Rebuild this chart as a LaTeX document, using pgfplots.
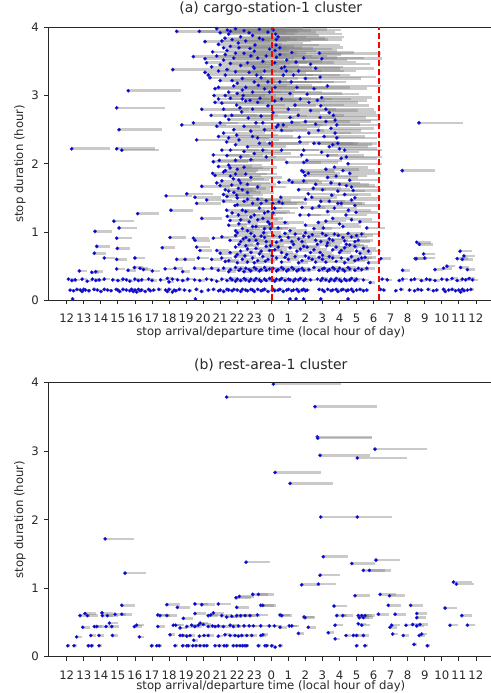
\documentclass[border=0pt]{standalone}
\usepackage{fontspec}
\setmainfont{DejaVu Sans}
\usepackage{pgfplots}
\usepackage{pgfplotstable}
\pgfplotsset{compat=1.18}
\definecolor{dotblue}{RGB}{40,40,215}
\definecolor{axgray}{RGB}{40,40,40}
\definecolor{seggray}{RGB}{128,128,128}

% columns: arrival (hour, 24 = midnight), duration (hour)
\pgfplotstableread[row sep=\\]{
x y\\
12.35 0.02\\ 19.55 0.02\\ 25.1 0.02\\ 25.45 0.02\\ 25.9 0.02\\ 26.9 0.02\\ 28.5 0.02\\
12.2 0.15\\ 12.4 0.14\\ 12.6 0.16\\ 12.8 0.15\\ 12.9 0.13\\ 13.0 0.16\\ 13.1 0.15\\ 13.3 0.14\\ 13.6 0.16\\ 13.8 0.15\\
14.0 0.13\\ 14.2 0.16\\ 14.4 0.15\\ 14.6 0.14\\ 14.9 0.16\\ 15.0 0.15\\ 15.1 0.13\\ 15.3 0.16\\ 15.5 0.15\\ 15.7 0.14\\
15.8 0.16\\ 15.9 0.13\\ 16.0 0.15\\ 16.1 0.12\\ 16.2 0.16\\ 16.3 0.14\\ 16.4 0.15\\ 16.6 0.13\\ 16.8 0.16\\ 16.9 0.14\\
17.1 0.15\\ 17.4 0.16\\ 17.8 0.15\\ 17.9 0.13\\ 18.0 0.16\\ 18.2 0.12\\ 18.3 0.15\\ 18.4 0.14\\ 18.6 0.16\\ 18.9 0.15\\
19.2 0.14\\ 19.6 0.16\\ 19.9 0.13\\ 20.3 0.15\\ 20.6 0.16\\ 20.9 0.14\\ 21.0 0.15\\ 21.2 0.13\\ 21.4 0.16\\ 21.5 0.15\\
21.7 0.14\\ 21.8 0.16\\ 22.0 0.15\\ 22.2 0.13\\ 22.3 0.16\\ 22.5 0.15\\ 22.6 0.14\\ 22.8 0.16\\ 22.9 0.15\\ 23.0 0.13\\
23.2 0.16\\ 23.4 0.14\\ 23.5 0.15\\ 23.6 0.16\\ 23.8 0.13\\ 24.05 0.15\\ 24.1 0.16\\ 24.2 0.14\\ 24.4 0.15\\ 24.5 0.16\\
24.7 0.13\\ 24.9 0.15\\ 25.0 0.16\\ 25.2 0.14\\ 25.3 0.15\\ 25.5 0.16\\ 25.6 0.13\\ 25.8 0.15\\ 25.9 0.16\\ 26.0 0.14\\
26.1 0.15\\ 26.8 0.16\\ 27.0 0.15\\ 27.1 0.13\\ 27.3 0.16\\ 27.5 0.14\\ 27.6 0.15\\ 27.8 0.16\\ 27.9 0.13\\ 28.1 0.15\\
28.2 0.16\\ 28.4 0.14\\ 28.5 0.15\\ 28.7 0.16\\ 28.8 0.13\\ 29.0 0.15\\ 29.2 0.16\\ 29.4 0.14\\ 29.6 0.15\\ 30.4 0.16\\
30.6 0.15\\ 31.3 0.14\\ 31.6 0.16\\ 32.1 0.15\\ 32.4 0.14\\ 32.6 0.16\\ 32.8 0.15\\ 33.2 0.16\\ 33.5 0.14\\ 33.7 0.15\\
34.1 0.16\\ 34.2 0.13\\ 34.4 0.15\\ 34.6 0.16\\ 34.8 0.14\\ 35.0 0.15\\ 35.1 0.12\\ 35.2 0.16\\ 35.3 0.14\\ 35.5 0.15\\ 35.7 0.16\\
12.1 0.31\\ 12.3 0.29\\ 12.5 0.30\\ 12.9 0.31\\ 13.2 0.28\\ 13.5 0.31\\ 13.7 0.29\\ 13.9 0.30\\ 14.2 0.31\\ 14.7 0.30\\
15.0 0.29\\ 15.3 0.31\\ 15.5 0.30\\ 15.7 0.28\\ 16.0 0.31\\ 16.2 0.29\\ 16.4 0.30\\ 16.8 0.31\\ 17.0 0.29\\ 17.5 0.30\\
17.9 0.32\\ 18.0 0.27\\ 18.2 0.31\\ 18.5 0.30\\ 18.8 0.29\\ 19.1 0.31\\ 19.5 0.30\\ 19.8 0.29\\ 20.2 0.31\\ 20.5 0.30\\
20.8 0.28\\ 21.1 0.31\\ 21.4 0.29\\ 21.6 0.32\\ 21.7 0.30\\ 21.9 0.28\\ 22.0 0.31\\ 22.2 0.29\\ 22.4 0.32\\ 22.5 0.30\\
22.7 0.28\\ 22.8 0.31\\ 23.0 0.29\\ 23.1 0.32\\ 23.3 0.30\\ 23.4 0.28\\ 23.6 0.31\\ 23.7 0.29\\ 23.9 0.32\\ 24.05 0.30\\
24.2 0.28\\ 24.3 0.31\\ 24.5 0.30\\ 24.6 0.32\\ 24.8 0.29\\ 25.0 0.31\\ 25.1 0.30\\ 25.3 0.28\\ 25.4 0.31\\ 25.6 0.30\\
25.7 0.32\\ 25.9 0.29\\ 26.0 0.31\\ 26.3 0.30\\ 26.7 0.31\\ 26.9 0.29\\ 27.0 0.32\\ 27.2 0.30\\ 27.4 0.28\\ 27.5 0.31\\
27.7 0.29\\ 27.8 0.32\\ 28.0 0.30\\ 28.1 0.28\\ 28.3 0.31\\ 28.4 0.29\\ 28.6 0.30\\ 28.7 0.32\\ 28.9 0.29\\ 29.0 0.31\\
29.4 0.30\\ 29.8 0.26\\ 30.5 0.31\\ 30.8 0.30\\ 31.5 0.29\\ 31.7 0.31\\ 32.2 0.30\\ 32.4 0.31\\ 32.8 0.29\\ 33.1 0.31\\
33.3 0.30\\ 33.6 0.29\\ 34.0 0.31\\ 34.3 0.30\\ 34.6 0.32\\ 34.9 0.29\\ 35.2 0.31\\ 35.4 0.30\\ 35.6 0.32\\ 35.8 0.30\\
12.74 0.43\\ 13.47 0.41\\ 13.7 0.42\\ 14.93 0.46\\ 15.6 0.44\\ 15.97 0.48\\ 16.3 0.47\\ 16.5 0.45\\ 17.02 0.43\\ 17.77 0.46\\
18.35 0.47\\ 18.8 0.42\\ 19.5 0.47\\ 20.0 0.46\\ 20.5 0.47\\ 20.89 0.44\\ 21.2 0.47\\ 21.5 0.42\\ 21.6 0.45\\ 21.9 0.48\\
22.1 0.44\\ 22.2 0.46\\ 22.4 0.42\\ 22.5 0.47\\ 22.7 0.45\\ 22.8 0.43\\ 23.0 0.48\\ 23.1 0.46\\ 23.3 0.43\\ 23.4 0.45\\
23.6 0.48\\ 23.7 0.44\\ 23.9 0.46\\ 24.1 0.47\\ 24.3 0.43\\ 24.4 0.45\\ 24.6 0.48\\ 24.7 0.46\\ 24.9 0.43\\ 25.0 0.45\\
25.2 0.48\\ 25.3 0.46\\ 25.5 0.43\\ 25.6 0.45\\ 25.8 0.47\\ 25.9 0.44\\ 26.2 0.45\\ 26.5 0.48\\ 26.8 0.44\\ 27.0 0.46\\
27.1 0.47\\ 27.3 0.43\\ 27.4 0.45\\ 27.6 0.48\\ 27.7 0.46\\ 27.9 0.43\\ 28.0 0.47\\ 28.2 0.45\\ 28.3 0.43\\ 28.5 0.48\\
28.6 0.46\\ 28.9 0.44\\ 29.1 0.47\\ 29.3 0.45\\ 29.6 0.47\\ 31.7 0.44\\ 33.6 0.45\\ 34.1 0.47\\ 34.3 0.50\\ 35.1 0.48\\ 35.5 0.45\\
14.2 0.62\\ 14.93 0.60\\ 16.0 0.62\\ 18.45 0.60\\ 18.94 0.60\\ 19.72 0.62\\ 20.5 0.60\\ 21.09 0.62\\ 21.3 0.57\\ 21.5 0.58\\
21.9 0.64\\ 22.0 0.55\\ 22.3 0.60\\ 22.45 0.65\\ 22.6 0.56\\ 22.9 0.62\\ 23.0 0.55\\ 23.2 0.58\\ 23.5 0.64\\ 23.65 0.57\\
23.8 0.60\\ 24.05 0.65\\ 24.3 0.62\\ 24.6 0.56\\ 24.8 0.63\\ 25.0 0.60\\ 25.4 0.64\\ 25.6 0.55\\ 25.8 0.58\\ 26.0 0.65\\
26.2 0.62\\ 26.4 0.60\\ 26.6 0.56\\ 26.8 0.63\\ 27.0 0.60\\ 27.2 0.56\\ 27.4 0.64\\ 27.6 0.62\\ 27.8 0.57\\ 28.1 0.62\\
28.3 0.55\\ 28.5 0.60\\ 28.7 0.64\\ 28.9 0.58\\ 29.1 0.60\\ 29.3 0.62\\ 29.5 0.63\\ 29.7 0.55\\ 30.42 0.61\\ 32.44 0.61\\
32.93 0.68\\ 32.5 0.61\\ 33.0 0.62\\ 34.9 0.61\\ 35.2 0.60\\
13.62 0.69\\ 13.76 0.79\\ 14.97 0.76\\ 17.6 0.77\\ 19.62 0.78\\ 19.82 0.73\\ 20.8 0.73\\ 21.0 0.69\\ 21.58 0.70\\ 21.9 0.78\\
22.0 0.67\\ 22.2 0.72\\ 22.5 0.80\\ 22.6 0.75\\ 22.8 0.70\\ 23.1 0.76\\ 23.3 0.68\\ 23.4 0.72\\ 23.7 0.79\\ 23.9 0.73\\
24.2 0.74\\ 24.4 0.78\\ 24.6 0.70\\ 24.9 0.67\\ 25.1 0.77\\ 25.5 0.72\\ 25.7 0.75\\ 25.9 0.79\\ 26.1 0.78\\ 26.3 0.70\\
26.5 0.74\\ 26.86 0.70\\ 27.0 0.66\\ 27.25 0.80\\ 27.6 0.74\\ 27.8 0.78\\ 28.0 0.70\\ 28.1 0.73\\ 28.3 0.77\\ 28.6 0.81\\
28.9 0.79\\ 29.0 0.72\\ 29.2 0.69\\ 29.4 0.76\\ 29.7 0.72\\ 32.68 0.82\\ 35.07 0.72\\ 35.3 0.65\\
22.1 0.82\\ 22.7 0.88\\ 23.2 0.83\\ 23.6 0.92\\ 23.95 0.80\\ 24.5 0.93\\ 25.3 0.82\\ 25.9 0.94\\ 26.7 0.82\\ 27.3 0.84\\
27.7 0.97\\ 28.2 0.92\\ 28.4 0.82\\ 29.0 0.95\\
13.66 1.01\\ 14.93 0.91\\ 18.06 0.92\\ 19.43 0.91\\ 19.52 0.88\\ 20.6 0.91\\ 21.1 0.93\\ 21.58 0.88\\ 21.9 0.95\\ 22.0 0.99\\
22.2 0.86\\ 22.35 0.90\\ 22.5 0.92\\ 22.8 0.98\\ 23.0 0.94\\ 23.1 0.88\\ 23.4 0.94\\ 23.55 0.99\\ 23.7 0.86\\ 24.1 0.95\\
24.3 0.85\\ 24.6 0.88\\ 24.8 0.98\\ 25.0 0.92\\ 25.2 0.86\\ 25.4 0.97\\ 25.6 0.90\\ 25.8 0.86\\ 26.0 0.99\\ 26.2 0.93\\
26.4 0.96\\ 26.6 0.88\\ 26.9 0.86\\ 27.0 0.98\\ 27.2 0.95\\ 27.4 0.90\\ 27.6 0.88\\ 27.93 0.95\\ 28.3 0.87\\ 28.5 0.98\\
28.7 0.93\\ 28.9 0.86\\ 29.1 0.88\\ 29.3 0.97\\ 32.53 0.85\\
14.77 1.16\\ 15.07 1.06\\ 16.16 1.27\\ 18.11 1.32\\ 19.92 1.20\\ 21.38 1.32\\ 21.42 1.23\\ 21.58 1.17\\ 22.07 1.25\\ 21.87 1.39\\
22.2 1.18\\ 22.3 1.05\\ 22.4 1.45\\ 22.5 1.30\\ 22.6 1.02\\ 22.7 1.15\\ 22.9 1.42\\ 23.0 1.25\\ 23.1 1.08\\ 23.2 1.48\\
23.3 1.35\\ 23.5 1.20\\ 23.6 1.05\\ 23.7 1.46\\ 23.8 1.30\\ 23.9 1.12\\ 24.08 1.42\\ 24.1 1.28\\ 24.4 1.06\\ 24.65 1.42\\
24.8 1.14\\ 25.1 1.02\\ 25.68 1.25\\ 25.8 1.36\\ 26.0 1.10\\ 26.2 1.25\\ 26.4 1.35\\ 26.5 1.05\\ 26.76 1.14\\ 26.9 1.45\\
27.05 1.06\\ 27.2 1.16\\ 27.3 1.30\\ 27.6 1.20\\ 27.7 1.35\\ 27.9 1.42\\ 28.0 1.12\\ 28.2 1.08\\ 28.38 1.25\\ 28.52 1.32\\
28.7 1.18\\ 28.97 1.29\\ 28.9 1.39\\ 29.2 1.15\\ 29.6 1.06\\
21.2 1.45\\ 21.5 1.10\\ 21.7 1.28\\ 22.0 1.40\\ 22.1 1.12\\ 22.3 1.32\\ 22.8 1.22\\ 22.9 1.08\\ 23.2 1.18\\ 23.4 1.42\\
23.6 1.28\\ 23.8 1.15\\ 23.95 1.05\\ 24.2 1.35\\ 21.9 1.02\\ 22.6 1.48\\
17.83 1.53\\ 19.04 1.56\\ 19.52 1.51\\ 20.21 1.47\\ 19.62 1.42\\ 19.92 1.67\\ 20.56 1.86\\ 20.7 1.83\\ 21.58 1.94\\ 21.77 1.78\\
21.68 1.69\\ 22.07 1.64\\ 21.97 1.54\\ 21.3 1.90\\ 21.5 1.60\\ 21.9 1.85\\ 22.2 1.72\\ 22.4 1.95\\ 22.6 1.58\\ 21.1 1.75\\
21.4 1.52\\ 22.8 1.80\\ 23.2 1.66\\ 24.45 1.73\\ 24.55 1.51\\ 24.45 1.44\\ 25.04 1.76\\ 25.23 1.73\\ 25.88 1.88\\ 26.17 1.86\\
26.17 1.56\\ 26.37 1.51\\ 26.46 1.64\\ 25.98 1.83\\ 25.78 1.90\\ 27.54 1.54\\ 27.3 1.80\\ 27.7 1.95\\ 28.0 1.70\\ 28.6 1.76\\
28.6 1.86\\ 28.7 1.66\\ 28.8 1.61\\ 28.7 1.47\\ 28.5 2.00\\ 28.2 1.90\\ 27.9 1.60\\ 31.68 1.90\\
20.9 1.96\\ 21.2 1.88\\ 21.0 1.68\\ 21.3 1.62\\ 21.6 1.82\\ 21.8 1.58\\ 22.0 1.92\\ 22.1 1.76\\ 22.3 1.62\\ 22.5 1.85\\
21.2 1.55\\ 20.8 1.72\\ 21.5 1.98\\ 22.0 1.50\\ 22.6 1.70\\
26.0 1.48\\ 26.6 1.70\\ 27.0 1.62\\ 27.2 1.92\\ 27.5 1.72\\ 27.8 1.82\\ 28.3 1.55\\ 28.4 1.68\\ 28.9 1.50\\ 26.8 1.38\\
27.4 1.45\\ 28.1 1.42\\ 25.6 1.62\\ 25.9 1.75\\
12.29 2.22\\ 14.93 2.22\\ 15.23 2.20\\ 15.07 2.50\\ 14.93 2.82\\ 15.61 3.07\\
19.92 2.80\\ 20.47 2.71\\ 19.43 2.60\\ 18.75 2.57\\ 19.62 2.35\\ 21.38 2.32\\ 20.60 2.13\\ 20.95 2.05\\ 20.60 2.03\\ 21.97 2.86\\
22.16 2.82\\ 21.68 2.71\\ 22.26 2.76\\ 22.65 2.67\\ 21.97 2.42\\ 22.10 2.35\\ 21.00 2.60\\ 22.40 2.55\\ 22.80 2.48\\ 23.10 2.60\\
23.40 2.70\\ 23.60 2.50\\ 23.20 2.38\\ 22.60 2.25\\ 23.00 2.15\\ 23.50 2.20\\ 22.20 2.10\\ 21.60 2.20\\ 21.80 2.50\\ 23.80 2.85\\
23.90 2.30\\ 25.39 2.86\\ 25.58 2.71\\ 26.86 2.68\\ 27.64 2.71\\ 27.74 2.64\\ 27.84 2.57\\ 24.40 2.57\\ 24.60 2.49\\ 25.20 2.61\\
26.76 2.49\\ 27.74 2.45\\ 27.84 2.38\\ 25.68 2.32\\ 25.64 2.39\\ 24.60 2.20\\ 25.90 2.20\\ 25.78 2.13\\ 28.30 2.20\\ 28.10 2.08\\
25.90 2.02\\ 24.90 2.02\\ 26.95 2.17\\ 24.10 2.75\\ 24.20 2.92\\ 26.20 2.90\\ 27.20 2.80\\ 26.50 2.30\\ 27.40 2.25\\ 28.40 2.10\\
26.08 2.05\\ 24.30 2.54\\ 24.70 2.57\\ 32.66 2.60\\
20.7 2.90\\ 21.2 2.80\\ 21.5 2.65\\ 20.8 2.55\\ 21.2 2.45\\ 21.5 2.38\\ 21.9 2.28\\ 21.1 2.20\\ 21.4 2.12\\ 21.9 2.05\\
22.3 2.95\\ 22.9 2.80\\ 23.5 2.60\\ 22.9 2.40\\ 23.3 2.30\\ 22.4 2.18\\ 23.7 2.10\\ 22.8 2.06\\ 20.9 2.40\\ 21.3 2.70\\
25.0 2.80\\ 26.3 2.78\\ 26.9 2.85\\ 27.4 2.75\\ 25.1 2.68\\ 26.0 2.62\\ 26.6 2.58\\ 27.2 2.62\\ 27.5 2.52\\ 26.2 2.45\\
27.1 2.40\\ 27.9 2.30\\ 26.8 2.30\\ 27.6 2.28\\ 28.0 2.22\\ 27.3 2.12\\
18.45 3.94\\ 19.78 3.94\\ 21.42 3.96\\ 21.28 3.84\\ 20.11 3.79\\ 20.56 3.64\\ 19.43 3.57\\ 20.11 3.54\\ 20.20 3.48\\ 18.22 3.38\\
20.50 3.42\\ 20.11 3.34\\ 20.30 3.30\\ 20.40 3.26\\ 20.70 3.10\\ 20.64 3.00\\ 20.90 2.95\\ 21.10 2.89\\ 22.06 3.77\\ 22.75 3.69\\
23.04 3.74\\ 22.95 3.42\\ 23.14 3.30\\ 23.24 3.15\\ 22.35 3.00\\ 22.75 2.93\\ 23.34 2.96\\ 21.50 3.90\\ 21.60 3.72\\ 21.30 3.60\\
21.20 3.52\\ 21.00 3.45\\ 21.40 3.38\\ 21.80 3.55\\ 22.20 3.86\\ 22.40 3.62\\ 22.60 3.48\\ 21.70 3.22\\ 22.00 3.18\\ 22.50 3.12\\
21.50 3.05\\ 23.50 3.82\\ 23.70 3.58\\ 23.60 3.36\\ 23.80 3.20\\ 23.90 3.05\\ 22.90 3.88\\ 24.12 3.96\\ 24.25 3.90\\ 24.30 3.82\\
24.28 3.74\\ 24.22 3.66\\ 24.30 3.56\\ 25.45 3.49\\ 26.82 3.62\\ 26.96 3.54\\ 24.60 3.40\\ 24.78 3.42\\ 24.88 3.36\\ 24.70 3.30\\
25.17 3.20\\ 26.86 3.27\\ 27.29 3.14\\ 24.22 3.12\\ 25.10 3.03\\ 26.95 2.97\\ 21.20 3.70\\ 21.90 3.35\\ 22.30 3.25\\ 23.20 3.55\\
20.8 3.98\\ 21.0 3.92\\ 21.6 3.94\\ 21.9 3.98\\ 22.4 3.95\\ 22.7 3.92\\ 23.3 3.97\\ 23.8 3.93\\ 21.1 3.80\\ 21.7 3.82\\
22.5 3.80\\ 23.3 3.84\\ 20.9 3.75\\ 22.1 3.70\\ 23.0 3.65\\ 23.9 3.68\\ 21.4 3.66\\ 20.8 3.58\\ 21.9 3.62\\ 22.8 3.58\\
23.5 3.50\\ 21.6 3.47\\ 22.2 3.44\\ 23.0 3.40\\ 20.9 3.36\\ 21.3 3.30\\ 22.7 3.34\\ 23.4 3.26\\ 21.0 3.22\\ 21.8 3.14\\
22.3 3.08\\ 23.0 3.20\\ 23.6 3.10\\ 20.9 3.12\\ 21.3 3.00\\ 22.0 3.03\\ 22.9 3.05\\ 21.6 2.96\\ 22.5 2.92\\ 23.2 2.90\\
24.4 3.86\\ 24.5 3.70\\ 24.5 3.60\\ 24.2 3.48\\ 24.9 3.52\\ 25.2 3.63\\ 25.6 3.36\\ 25.9 3.55\\ 26.3 3.46\\ 26.6 3.40\\
25.3 3.30\\ 26.0 3.25\\ 26.5 3.10\\ 24.5 3.20\\ 25.5 3.12\\ 26.1 3.02\\ 26.7 2.93\\ 24.6 2.95\\ 25.7 2.95\\
}\tabA

\pgfplotstableread[row sep=\\]{
x y\\
12.06 0.16\\ 12.43 0.16\\ 13.27 0.16\\ 13.46 0.16\\ 13.89 0.16\\ 16.98 0.16\\ 17.28 0.16\\ 17.43 0.16\\ 18.35 0.16\\ 18.80 0.16\\
19.04 0.16\\ 19.13 0.16\\ 19.39 0.16\\ 19.58 0.16\\ 19.82 0.16\\ 20.05 0.16\\ 20.21 0.16\\ 20.70 0.16\\ 20.95 0.16\\ 21.23 0.16\\
21.38 0.16\\ 21.77 0.16\\ 21.97 0.16\\ 22.16 0.16\\ 22.32 0.16\\ 22.46 0.16\\ 22.56 0.16\\ 23.24 0.16\\ 23.63 0.16\\ 23.73 0.16\\
24.02 0.16\\ 24.22 0.14\\ 24.51 0.16\\ 29.00 0.16\\ 29.49 0.16\\ 32.37 0.18\\ 33.15 0.16\\ 19.45 0.24\\ 27.74 0.26\\
12.58 0.29\\ 13.41 0.31\\ 13.89 0.31\\ 14.68 0.31\\ 16.26 0.29\\ 18.06 0.32\\ 18.65 0.31\\ 18.80 0.31\\ 19.04 0.30\\ 19.23 0.31\\
19.78 0.30\\ 20.05 0.31\\ 20.30 0.31\\ 20.89 0.30\\ 21.28 0.32\\ 21.58 0.31\\ 21.87 0.31\\ 22.07 0.30\\ 22.26 0.31\\ 22.56 0.31\\
22.85 0.31\\ 23.38 0.31\\ 23.50 0.32\\ 25.59 0.34\\ 27.34 0.35\\ 28.38 0.31\\ 28.81 0.31\\ 29.00 0.31\\ 29.40 0.31\\ 31.12 0.33\\
31.74 0.31\\ 32.68 0.31\\ 32.82 0.33\\
12.94 0.43\\ 13.62 0.44\\ 13.76 0.44\\ 14.30 0.44\\ 14.64 0.44\\ 15.97 0.44\\ 16.10 0.46\\ 17.34 0.44\\ 18.25 0.46\\ 18.39 0.46\\
18.65 0.42\\ 19.04 0.44\\ 19.33 0.46\\ 19.52 0.44\\ 19.72 0.46\\ 20.01 0.47\\ 20.30 0.44\\ 20.54 0.45\\ 20.70 0.44\\ 20.89 0.45\\
21.19 0.44\\ 21.58 0.46\\ 21.77 0.44\\ 22.07 0.45\\ 22.40 0.45\\ 22.70 0.45\\ 22.95 0.45\\ 23.38 0.45\\ 23.88 0.45\\ 24.18 0.45\\
24.51 0.43\\ 25.05 0.45\\ 25.20 0.45\\ 26.17 0.43\\ 27.74 0.46\\ 29.10 0.48\\ 29.30 0.46\\ 30.96 0.43\\ 31.06 0.46\\ 31.90 0.46\\
32.29 0.47\\ 32.53 0.45\\ 32.72 0.47\\ 34.48 0.46\\ 35.50 0.46\\ 14.50 0.49\\ 19.82 0.49\\
12.78 0.60\\ 13.21 0.60\\ 14.09 0.60\\ 14.38 0.60\\ 15.23 0.62\\ 17.34 0.61\\ 17.47 0.60\\ 17.87 0.60\\ 18.84 0.56\\ 19.52 0.63\\
20.30 0.60\\ 20.45 0.61\\ 21.09 0.60\\ 21.38 0.58\\ 21.68 0.59\\ 21.97 0.60\\ 22.20 0.60\\ 22.46 0.60\\ 22.75 0.60\\ 23.18 0.61\\
24.51 0.61\\ 24.61 0.60\\ 25.92 0.58\\ 25.98 0.57\\ 27.84 0.60\\ 28.19 0.60\\ 29.10 0.60\\ 29.16 0.57\\ 29.30 0.60\\ 29.40 0.57\\
29.50 0.60\\ 30.28 0.62\\ 31.26 0.62\\ 32.53 0.63\\ 32.53 0.57\\ 35.17 0.60\\
13.07 0.63\\ 14.07 0.64\\ 14.83 0.62\\ 20.60 0.64\\
15.23 0.75\\ 17.87 0.76\\ 18.49 0.72\\ 19.52 0.77\\ 19.92 0.76\\ 20.89 0.77\\ 21.97 0.72\\ 23.38 0.75\\ 23.50 0.75\\ 27.68 0.74\\
30.86 0.75\\ 32.17 0.75\\ 34.19 0.71\\
21.93 0.86\\ 22.12 0.88\\ 22.91 0.91\\ 23.24 0.91\\ 28.91 0.89\\ 30.38 0.91\\ 30.93 0.89\\
25.78 1.05\\ 26.76 1.06\\ 34.68 1.09\\ 34.85 1.06\\ 26.86 1.19\\ 15.42 1.22\\ 29.40 1.26\\ 29.75 1.26\\ 28.72 1.36\\ 22.52 1.38\\
30.14 1.41\\ 27.05 1.46\\ 14.25 1.72\\ 26.90 2.04\\ 29.04 2.04\\ 25.10 2.53\\ 24.22 2.69\\ 29.04 2.90\\ 26.86 2.94\\ 30.08 3.03\\
26.70 3.21\\ 26.72 3.19\\ 26.56 3.65\\ 21.38 3.79\\ 24.12 3.98\\
}\tabB

\pgfplotsset{
  frame/.style={
    scale only axis, width=445pt,
    xmin=10.92, xmax=37.02, ymin=0, ymax=4,
  },
  stopaxis/.style={
    frame,
    xtick={12,...,36},
    xticklabels={12,13,14,15,16,17,18,19,20,21,22,23,0,1,2,3,4,5,6,7,8,9,10,11,12},
    ytick={0,1,2,3,4},
    tick align=outside, xtick pos=left, ytick pos=left,
    major tick length=4pt,
    tick style={axgray, line width=0.8pt},
    axis line style={axgray, line width=0.8pt},
    /pgf/number format/assume math mode=true,
    ticklabel style={font=\fontsize{11.7}{14}\selectfont, text=axgray},
    xticklabel style={anchor=base, yshift=-18.5pt},
    yticklabel style={anchor=east, xshift=-2pt},
    label style={font=\fontsize{11.7}{14}\selectfont, text=axgray},
    xlabel={stop arrival/departure time (local hour of day)},
    ylabel={stop duration (hour)},
    ylabel style={at={(axis description cs:-0.0636,0.5)}, anchor=center, rotate=0},
    title style={font=\fontsize{14}{17}\selectfont, text=axgray, at={(axis description cs:0.5,1)}, anchor=base},
    clip=true,
  },
  segs/.style={only marks, mark=*, mark size=1.65pt, color=dotblue,
    error bars/.cd, x dir=plus, x explicit, error mark=none,
    error bar style={line width=2.6pt, seggray, opacity=0.42}},
  cut/.style={draw=red, line width=2.2pt, dash pattern=on 6pt off 3pt},
}

\begin{document}
\begin{tikzpicture}
\useasboundingbox (0,0) rectangle (490pt,-693pt);
\begin{axis}[stopaxis, at={(48.3pt,-27.3pt)}, anchor=north west, height=273pt,
  title={(a) cargo-station-1 cluster}, title style={yshift=8.8pt},
  xlabel style={at={(axis description cs:0.5,0)}, anchor=base, yshift=-35pt}]
\addplot+[segs] table[x=x, y=y, x error=y] {\tabA};
\end{axis}
\begin{axis}[frame, hide axis, at={(48.3pt,-27.3pt)}, anchor=north west, height=273pt]
\addplot[cut] coordinates {(30.33,0) (30.33,4)};
\addplot[cut] coordinates {(24.03,0) (24.03,4)};
\end{axis}
\begin{axis}[stopaxis, at={(48.3pt,-382.7pt)}, anchor=north west, height=274pt,
  title={(b) rest-area-1 cluster}, title style={yshift=7.4pt},
  xlabel style={at={(axis description cs:0.5,0)}, anchor=base, yshift=-33pt}]
\addplot+[segs] table[x=x, y=y, x error=y] {\tabB};
\end{axis}
\end{tikzpicture}
\end{document}
